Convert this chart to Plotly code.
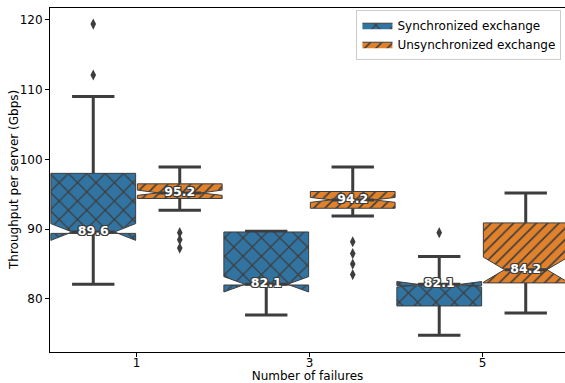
import plotly.graph_objects as go

# ---------------- data ----------------
categories = ["1", "3", "5"]

sync_q1 = [89.4, 82.0, 79.0]
sync_median = [89.6, 82.1, 82.1]
sync_q3 = [98.0, 89.6, 81.9]
sync_lowerfence = [82.1, 77.7, 74.8]
sync_upperfence = [109.0, 89.7, 86.1]
sync_notch_lo = [88.4, 81.0, 81.7]
sync_notch_hi = [90.8, 83.2, 82.5]
sync_outliers = [[119.4, 112.1], [], [89.5]]

unsync_q1 = [94.4, 93.0, 82.3]
unsync_median = [95.2, 94.2, 84.2]
unsync_q3 = [96.5, 95.4, 90.9]
unsync_lowerfence = [92.7, 91.9, 78.0]
unsync_upperfence = [98.9, 98.9, 95.2]
unsync_notch_lo = [94.85, 93.85, 82.4]
unsync_notch_hi = [95.6, 94.55, 86.0]
unsync_outliers = [[89.5, 88.5, 87.3], [88.2, 86.5, 85.0, 83.5], []]

series_names = ["Synchronized exchange", "Unsynchronized exchange"]

# ---------------- style ----------------
FONT = "DejaVu Sans"
EDGE = "#3d3d3d"
COLORS = ["#3274a1", "#e1812c"]
PATTERNS = [dict(shape="x", size=13, solidity=0.18, fgcolor=EDGE, fgopacity=1),
            dict(shape="/", size=8, solidity=0.2, fgcolor=EDGE, fgopacity=1)]
BOX_W = 0.49
OFFSETS = [-0.25, 0.25]

series = [
    (sync_q1, sync_median, sync_q3, sync_lowerfence, sync_upperfence,
     sync_notch_lo, sync_notch_hi, sync_outliers),
    (unsync_q1, unsync_median, unsync_q3, unsync_lowerfence, unsync_upperfence,
     unsync_notch_lo, unsync_notch_hi, unsync_outliers),
]

fig = go.Figure()

# whiskers + caps (beneath boxes)
for s, (q1, med, q3, lo, hi, nlo, nhi, outs) in enumerate(series):
    wx, wy = [], []
    for i in range(len(categories)):
        c = i + OFFSETS[s]
        wx += [c, c, None, c, c, None]
        wy += [q3[i], hi[i], None, q1[i], lo[i], None]
        wx += [c - BOX_W / 4, c + BOX_W / 4, None, c - BOX_W / 4, c + BOX_W / 4, None]
        wy += [hi[i], hi[i], None, lo[i], lo[i], None]
    fig.add_trace(go.Scatter(x=wx, y=wy, mode="lines", line=dict(color=EDGE, width=3),
                             showlegend=False, hoverinfo="skip"))

# notched boxes
for s, (q1, med, q3, lo, hi, nlo, nhi, outs) in enumerate(series):
    for i in range(len(categories)):
        c = i + OFFSETS[s]
        xl, xr = c - BOX_W / 2, c + BOX_W / 2
        cl, cr = c - BOX_W / 4, c + BOX_W / 4
        xs = [xl, xr, xr, cr, xr, xr, xl, xl, cl, xl, xl]
        ys = [q1[i], q1[i], nlo[i], med[i], nhi[i], q3[i], q3[i], nhi[i], med[i], nlo[i], q1[i]]
        fig.add_trace(go.Scatter(
            x=xs, y=ys, mode="lines", fill="toself", fillcolor=COLORS[s],
            fillpattern=dict(bgcolor=COLORS[s], **PATTERNS[s]),
            line=dict(color=EDGE, width=1),
            name=series_names[s], legendgroup=series_names[s],
            showlegend=(i == 0), hoverinfo="skip"))

# medians, outliers, labels
for s, (q1, med, q3, lo, hi, nlo, nhi, outs) in enumerate(series):
    mx, my, ox, oy, tx, ty, tt = [], [], [], [], [], [], []
    for i in range(len(categories)):
        c = i + OFFSETS[s]
        mx += [c - BOX_W / 4, c + BOX_W / 4, None]
        my += [med[i], med[i], None]
        for v in outs[i]:
            ox.append(c)
            oy.append(v)
        tx.append(c)
        ty.append(med[i])
        tt.append(f"{med[i]:.1f}")
    fig.add_trace(go.Scatter(x=mx, y=my, mode="lines", line=dict(color=EDGE, width=3),
                             showlegend=False, hoverinfo="skip"))
    fig.add_trace(go.Scatter(x=ox, y=oy, mode="markers",
                             marker=dict(symbol="diamond-tall", size=8, color=EDGE),
                             showlegend=False, hoverinfo="skip"))
    fig.add_trace(go.Scatter(
        x=tx, y=ty, mode="text", text=tt, textposition="middle center",
        textfont=dict(family=FONT, size=12.5, color="white", weight="bold",
                      shadow=f"-1px -1px 0 {EDGE}, 1px -1px 0 {EDGE}, -1px 1px 0 {EDGE}, 1px 1px 0 {EDGE}, 0 1px 0 {EDGE}, 0 -1px 0 {EDGE}, 1px 0 0 {EDGE}, -1px 0 0 {EDGE}"),
        showlegend=False, hoverinfo="skip"))

fig.update_layout(
    width=565, height=383,
    margin=dict(l=50, r=0, t=8, b=31, autoexpand=False),
    paper_bgcolor="white", plot_bgcolor="white",
    font=dict(family=FONT, size=12, color="black"),
    showlegend=True,
    legend=dict(x=0.595, xanchor="left", y=0.995, yanchor="top",
                bgcolor="rgba(255,255,255,0.8)", bordercolor="#cccccc", borderwidth=1,
                font=dict(family=FONT, size=12), tracegroupgap=0, itemwidth=30),
    annotations=[dict(text="Throughput per server (Gbps)", xref="paper", yref="paper",
                      x=0, y=0.5, xshift=-36, textangle=-90, showarrow=False,
                      xanchor="center", yanchor="middle", font=dict(family=FONT, size=12))],
)
fig.update_xaxes(
    range=[-0.5, 2.477], tickmode="array", tickvals=[0, 1, 2], ticktext=categories,
    showgrid=False, zeroline=False, showline=True, linecolor="black", linewidth=1,
    mirror=True, ticks="outside", ticklen=4, tickwidth=1, tickcolor="black",
    automargin=False, ticklabelstandoff=-4,
    title=dict(text="Number of failures", standoff=0, font=dict(size=12)),
)
fig.update_yaxes(
    range=[72.4, 121.7], tickvals=[80, 90, 100, 110, 120],
    showgrid=False, zeroline=False, showline=True, linecolor="black", linewidth=1,
    ticks="outside", ticklen=4, tickwidth=1, tickcolor="black",
    automargin=False,
)

fig.write_html("out.html", config={"displayModeBar": False},
               post_script="document.body.style.margin='0';document.body.style.overflow='hidden';")
